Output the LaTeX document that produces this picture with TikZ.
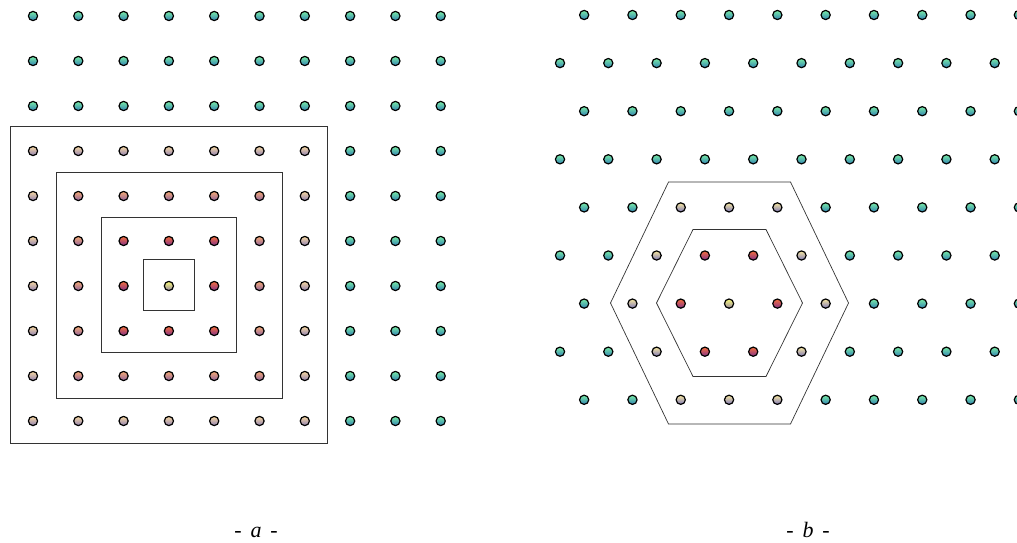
\documentclass[tikz,border=0pt]{standalone}
\usepackage{fontspec}
\setmainfont{Liberation Serif}
\definecolor{yelt}{RGB}{250,250,120}
\definecolor{yelm}{RGB}{225,222,70}
\definecolor{yelb}{RGB}{150,135,165}
\definecolor{redt}{RGB}{245,110,60}
\definecolor{redm}{RGB}{220,70,60}
\definecolor{redb}{RGB}{130,50,140}
\definecolor{salt}{RGB}{245,170,115}
\definecolor{salm}{RGB}{220,135,105}
\definecolor{salb}{RGB}{145,100,160}
\definecolor{tant}{RGB}{245,215,160}
\definecolor{tanm}{RGB}{220,190,150}
\definecolor{tanb}{RGB}{145,130,180}
\definecolor{begt}{RGB}{248,232,160}
\definecolor{begm}{RGB}{222,208,150}
\definecolor{begb}{RGB}{125,120,185}
\definecolor{teat}{RGB}{120,235,165}
\definecolor{team}{RGB}{75,200,165}
\definecolor{teab}{RGB}{50,130,180}
\tikzset{
  ball/.style={draw=black, line width=1.2pt, shading angle=45},
  frame/.style={draw=black!80, line width=0.7pt},
  lab/.style={font=\fontsize{22}{24}\selectfont, anchor=base}
}
\begin{document}
\begin{tikzpicture}[x=1pt,y=1pt]
\useasboundingbox (0,0) rectangle (1017,542);
\clip (0,0) rectangle (1017,542);
% panel a
\foreach \i in {0,...,9}{
  \foreach \j in {0,...,9}{
    \pgfmathtruncatemacro\d{max(abs(\i-3),abs(\j-6))}
    \pgfmathsetmacro\px{33+45.3*\i}
    \pgfmathsetmacro\py{542-(16+45*\j)}
    \edef\cn{\ifcase\d yel\or red\or sal\or tan\else tea\fi}
    \shadedraw[ball, top color=\cn t, middle color=\cn m, bottom color=\cn b] (\px,\py) circle (4.6pt);
  }
}
\coordinate (ca) at (169,257);
\foreach \h in {25.5,67.8,113,158.3}{
  \draw[frame] ([shift={(-\h,-\h)}]ca) rectangle ([shift={(\h,\h)}]ca);
}
% panel b
\foreach \j in {0,...,8}{
  \foreach \i in {0,...,9}{
    \pgfmathtruncatemacro\ev{mod(\j+1,2)}
    \pgfmathtruncatemacro\X{2*\i+\ev}
    \pgfmathtruncatemacro\dr{abs(\j-6)}
    \pgfmathtruncatemacro\dc{abs(\X-7)}
    \pgfmathtruncatemacro\d{\dr+max(0,(\dc-\dr)/2)}
    \pgfmathsetmacro\px{560+24.15*\ev+48.3*\i}
    \pgfmathsetmacro\py{542-(15+48.1*\j)}
    \edef\cn{\ifcase\d yel\or red\or beg\else tea\fi}
    \shadedraw[ball, top color=\cn t, middle color=\cn m, bottom color=\cn b] (\px,\py) circle (4.6pt);
  }
}
\coordinate (cb) at (729.5,239);
\draw[frame] ([shift={(-73,0)}]cb) -- ([shift={(-36.5,73.5)}]cb) -- ([shift={(36.5,73.5)}]cb) -- ([shift={(73,0)}]cb) -- ([shift={(36.5,-73.5)}]cb) -- ([shift={(-36.5,-73.5)}]cb) -- cycle;
\draw[frame] ([shift={(-119,0)}]cb) -- ([shift={(-61,121)}]cb) -- ([shift={(61,121)}]cb) -- ([shift={(119,0)}]cb) -- ([shift={(61,-121)}]cb) -- ([shift={(-61,-121)}]cb) -- cycle;
% labels
\node[lab] (la) at (256,5) {-\hspace{0.4em}\textit{a}\hspace{0.4em}-};
\node[lab] (lb) at (808,5) {-\hspace{0.4em}\textit{b}\hspace{0.4em}-};
\end{tikzpicture}
\end{document}
